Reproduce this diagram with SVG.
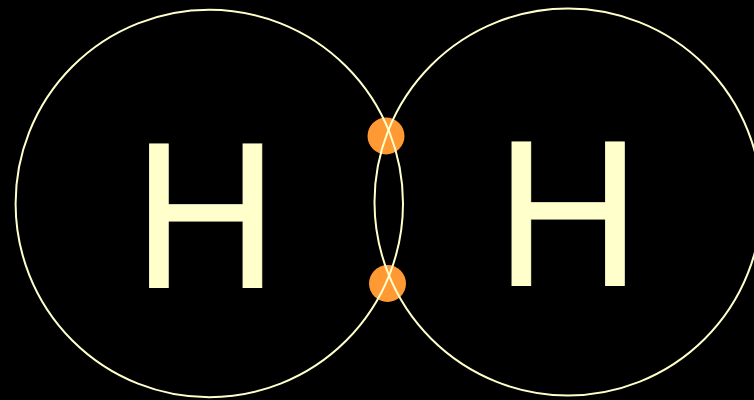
<svg xmlns="http://www.w3.org/2000/svg" width="754" height="400" viewBox="0 0 754 400">
<style>
.orb{fill:none;stroke:#ffffcc;stroke-width:2}
.e{fill:#ff9933}
.t{fill:#ffffcc;stroke:#ffffcc;stroke-width:0.8;font-family:"Liberation Sans",Arial,sans-serif;font-size:201px;text-anchor:middle}
</style>
<rect width="754" height="400" fill="#000"/>
<g id="electrons">
<circle class="e" cx="386" cy="136" r="18.500"/>
<circle class="e" cx="387.500" cy="283.500" r="18.500"/>
</g>
<g id="atom-left">
<circle class="orb" cx="209.300" cy="203.500" r="193.700"/>
<text class="t" transform="translate(205.700 286.900) scale(1 1.03)">H</text>
</g>
<g id="atom-right">
<circle class="orb" cx="568" cy="202" r="193.500"/>
<text class="t" transform="translate(568 285) scale(1 1.03)">H</text>
</g>
</svg>
